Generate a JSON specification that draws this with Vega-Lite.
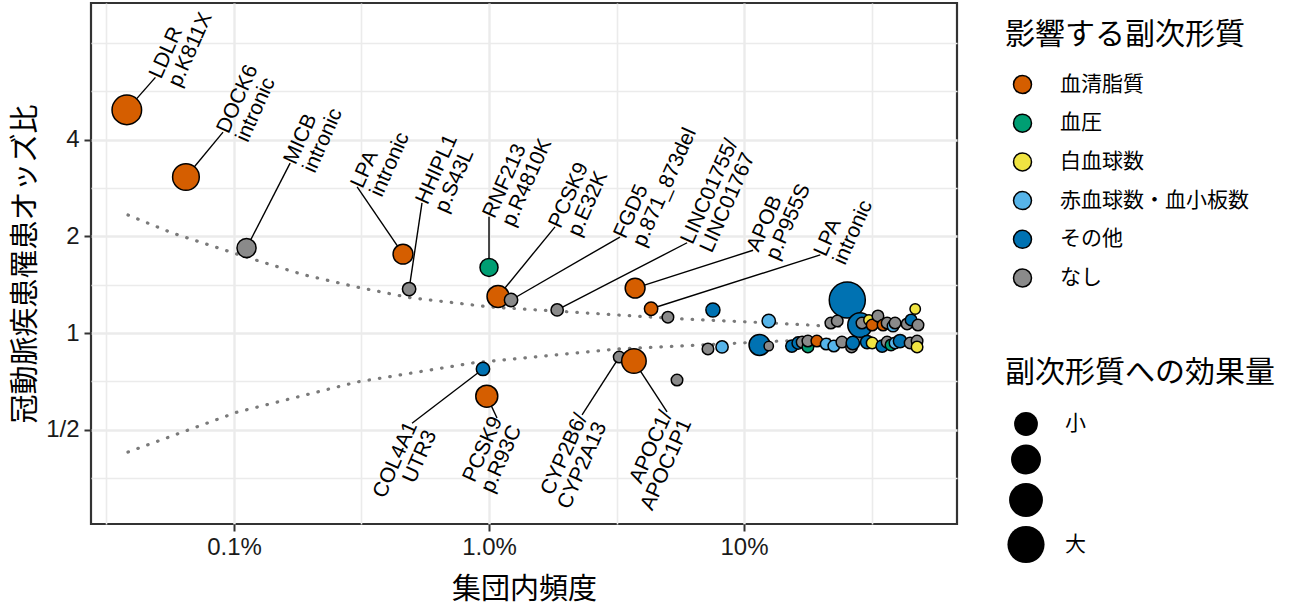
{
  "$schema": "https://vega.github.io/schema/vega-lite/v6.json",
  "width": 866,
  "height": 521,
  "autosize": {"type": "none"},
  "padding": {"left": 91, "top": 3, "right": 341, "bottom": 81},
  "background": "white",
  "config": {
    "view": {"stroke": "#333333", "strokeWidth": 2.2},
    "font": "Liberation Sans"
  },
  "datasets": {
    "curves": [
      {"curve": "upper", "freq": 0.0384, "or": 2.33},
      {"curve": "upper", "freq": 0.0571, "or": 2.05},
      {"curve": "upper", "freq": 0.1125, "or": 1.72},
      {"curve": "upper", "freq": 0.1866, "or": 1.52},
      {"curve": "upper", "freq": 0.3036, "or": 1.39},
      {"curve": "upper", "freq": 0.4856, "or": 1.29},
      {"curve": "upper", "freq": 1.009, "or": 1.205},
      {"curve": "upper", "freq": 1.849, "or": 1.17},
      {"curve": "upper", "freq": 5.27, "or": 1.11},
      {"curve": "upper", "freq": 13.0, "or": 1.074},
      {"curve": "upper", "freq": 20.4, "or": 1.053},
      {"curve": "upper", "freq": 30.6, "or": 1.044},
      {"curve": "lower", "freq": 0.0384, "or": 0.426},
      {"curve": "lower", "freq": 0.1027, "or": 0.567},
      {"curve": "lower", "freq": 0.304, "or": 0.704},
      {"curve": "lower", "freq": 0.865, "or": 0.807},
      {"curve": "lower", "freq": 3.18, "or": 0.892},
      {"curve": "lower", "freq": 6.72, "or": 0.918},
      {"curve": "lower", "freq": 13.8, "or": 0.944},
      {"curve": "lower", "freq": 30.6, "or": 0.965}
    ],
    "variants": [
      {"freq": 0.038, "or": 4.95, "trait": "血清脂質", "effect": 0.82, "label": "LDLR\np.K811X", "lfreq": 0.0492, "lor": 6.25, "side": "up"},
      {"freq": 0.0648, "or": 3.06, "trait": "血清脂質", "effect": 0.74, "label": "DOCK6\nintronic", "lfreq": 0.0906, "lor": 4.22, "side": "up"},
      {"freq": 0.112, "or": 1.84, "trait": "なし", "effect": 0.53, "label": "MICB\nintronic", "lfreq": 0.166, "lor": 3.38, "side": "up"},
      {"freq": 0.46, "or": 1.76, "trait": "血清脂質", "effect": 0.55, "label": "LPA\nintronic", "lfreq": 0.304, "lor": 2.85, "side": "up"},
      {"freq": 0.486, "or": 1.37, "trait": "なし", "effect": 0.37, "label": "HHIPL1\np.S43L", "lfreq": 0.546, "lor": 2.54, "side": "up"},
      {"freq": 1.0, "or": 1.6, "trait": "血圧", "effect": 0.5, "label": "RNF213\np.R4810K", "lfreq": 1.0, "lor": 2.3, "side": "up"},
      {"freq": 1.085, "or": 1.3, "trait": "血清脂質", "effect": 0.61, "label": "PCSK9\np.E32K", "lfreq": 1.815, "lor": 2.14, "side": "up"},
      {"freq": 1.22, "or": 1.267, "trait": "なし", "effect": 0.37, "label": "FGD5\np.871_873del", "lfreq": 3.26, "lor": 1.99, "side": "up"},
      {"freq": 1.85, "or": 1.18, "trait": "なし", "effect": 0.34, "label": "LINC01755/\nLINC01767", "lfreq": 5.98, "lor": 1.91, "side": "up"},
      {"freq": 3.74, "or": 1.38, "trait": "血清脂質", "effect": 0.55, "label": "APOB\np.P955S", "lfreq": 10.85, "lor": 1.81, "side": "up"},
      {"freq": 4.32, "or": 1.19, "trait": "血清脂質", "effect": 0.37, "label": "LPA\nintronic", "lfreq": 19.9, "lor": 1.75, "side": "up"},
      {"freq": 0.947, "or": 0.773, "trait": "その他", "effect": 0.37, "label": "COL4A1\nUTR3", "lfreq": 0.499, "lor": 0.524, "side": "down"},
      {"freq": 0.98, "or": 0.636, "trait": "血清脂質", "effect": 0.61, "label": "PCSK9\np.R93C", "lfreq": 1.075, "lor": 0.544, "side": "down"},
      {"freq": 3.24, "or": 0.842, "trait": "なし", "effect": 0.32, "label": "CYP2B6/\nCYP2A13", "lfreq": 2.317, "lor": 0.556, "side": "down"},
      {"freq": 3.7, "or": 0.818, "trait": "血清脂質", "effect": 0.68, "label": "APOC1/\nAPOC1P1", "lfreq": 4.99, "lor": 0.568, "side": "down"},
      {"freq": 25.4, "or": 1.267, "trait": "その他", "effect": 1.0},
      {"freq": 28.5, "or": 1.059, "trait": "その他", "effect": 0.68},
      {"freq": 11.5, "or": 0.918, "trait": "その他", "effect": 0.58},
      {"freq": 12.5, "or": 0.911, "trait": "なし", "effect": 0.26},
      {"freq": 5.03, "or": 1.12, "trait": "なし", "effect": 0.32},
      {"freq": 7.55, "or": 1.18, "trait": "その他", "effect": 0.39},
      {"freq": 12.5, "or": 1.09, "trait": "赤血球数・血小板数", "effect": 0.37},
      {"freq": 5.46, "or": 0.714, "trait": "なし", "effect": 0.32},
      {"freq": 7.22, "or": 0.892, "trait": "なし", "effect": 0.32},
      {"freq": 8.2, "or": 0.905, "trait": "赤血球数・血小板数", "effect": 0.34},
      {"freq": 21.9, "or": 1.074, "trait": "なし", "effect": 0.32},
      {"freq": 23.2, "or": 1.09, "trait": "なし", "effect": 0.32},
      {"freq": 29.0, "or": 1.074, "trait": "なし", "effect": 0.32},
      {"freq": 30.9, "or": 1.098, "trait": "白血球数", "effect": 0.29},
      {"freq": 31.8, "or": 1.059, "trait": "血清脂質", "effect": 0.32},
      {"freq": 33.5, "or": 1.13, "trait": "なし", "effect": 0.32},
      {"freq": 35.1, "or": 1.059, "trait": "血清脂質", "effect": 0.32},
      {"freq": 36.4, "or": 1.074, "trait": "なし", "effect": 0.32},
      {"freq": 38.4, "or": 1.051, "trait": "赤血球数・血小板数", "effect": 0.32},
      {"freq": 39.1, "or": 1.074, "trait": "なし", "effect": 0.32},
      {"freq": 43.6, "or": 1.067, "trait": "なし", "effect": 0.32},
      {"freq": 45.2, "or": 1.098, "trait": "その他", "effect": 0.32},
      {"freq": 48.1, "or": 1.059, "trait": "なし", "effect": 0.32},
      {"freq": 46.9, "or": 1.188, "trait": "白血球数", "effect": 0.29},
      {"freq": 15.4, "or": 0.911, "trait": "その他", "effect": 0.34},
      {"freq": 16.3, "or": 0.931, "trait": "その他", "effect": 0.34},
      {"freq": 16.9, "or": 0.937, "trait": "なし", "effect": 0.32},
      {"freq": 17.8, "or": 0.905, "trait": "血圧", "effect": 0.32},
      {"freq": 17.8, "or": 0.944, "trait": "なし", "effect": 0.32},
      {"freq": 19.3, "or": 0.944, "trait": "血清脂質", "effect": 0.32},
      {"freq": 21.0, "or": 0.924, "trait": "赤血球数・血小板数", "effect": 0.32},
      {"freq": 22.5, "or": 0.911, "trait": "赤血球数・血小板数", "effect": 0.32},
      {"freq": 24.2, "or": 0.937, "trait": "なし", "effect": 0.32},
      {"freq": 26.4, "or": 0.905, "trait": "なし", "effect": 0.32},
      {"freq": 26.7, "or": 0.931, "trait": "その他", "effect": 0.37},
      {"freq": 30.4, "or": 0.937, "trait": "その他", "effect": 0.37},
      {"freq": 31.8, "or": 0.931, "trait": "白血球数", "effect": 0.32},
      {"freq": 34.8, "or": 0.911, "trait": "その他", "effect": 0.34},
      {"freq": 36.4, "or": 0.937, "trait": "なし", "effect": 0.32},
      {"freq": 37.7, "or": 0.918, "trait": "血圧", "effect": 0.32},
      {"freq": 39.1, "or": 0.931, "trait": "赤血球数・血小板数", "effect": 0.32},
      {"freq": 40.9, "or": 0.944, "trait": "その他", "effect": 0.37},
      {"freq": 44.8, "or": 0.931, "trait": "なし", "effect": 0.32},
      {"freq": 47.7, "or": 0.944, "trait": "なし", "effect": 0.32},
      {"freq": 47.7, "or": 0.905, "trait": "白血球数", "effect": 0.32}
    ]
  },
  "encoding": {
    "x": {
      "field": "freq",
      "type": "quantitative",
      "title": "集団内頻度",
      "scale": {"type": "log", "domain": [0.0275, 68.4], "nice": false, "zero": false},
      "axis": {
        "values": [0.0316228, 0.1, 0.316228, 1, 3.16228, 10, 31.6228],
        "labelExpr": "datum.value == 0.1 ? '0.1%' : datum.value == 1 ? '1.0%' : datum.value == 10 ? '10%' : ''",
        "grid": true,
        "gridColor": "#EBEBEB",
        "gridWidth": {"condition": {"test": "datum.value == 0.1 || datum.value == 1 || datum.value == 10", "value": 2.4}, "value": 1.6},
        "tickOpacity": {"condition": {"test": "datum.value == 0.1 || datum.value == 1 || datum.value == 10", "value": 1}, "value": 0},
        "domain": false,
        "tickColor": "#333333",
        "tickWidth": 2,
        "tickSize": 7,
        "labelFont": "Liberation Sans",
        "labelFontSize": 24,
        "labelColor": "#1a1a1a",
        "labelPadding": 4,
        "labelFlush": false,
        "labelOverlap": false,
        "titleFont": "Noto Sans CJK JP",
        "titleFontSize": 29,
        "titleFontWeight": "normal",
        "titleColor": "black",
        "titlePadding": 16
      }
    },
    "y": {
      "field": "or",
      "type": "quantitative",
      "title": "冠動脈疾患罹患オッズ比",
      "scale": {"type": "log", "base": 2, "domain": [0.2544, 10.65], "nice": false, "zero": false},
      "axis": {
        "values": [0.353553, 0.5, 0.707107, 1, 1.414214, 2, 2.828427, 4, 5.656854, 8],
        "labelExpr": "datum.value == 0.5 ? '1/2' : datum.value == 1 ? '1' : datum.value == 2 ? '2' : datum.value == 4 ? '4' : ''",
        "grid": true,
        "gridColor": "#EBEBEB",
        "gridWidth": {"condition": {"test": "datum.value == 0.5 || datum.value == 1 || datum.value == 2 || datum.value == 4", "value": 2.4}, "value": 1.6},
        "tickOpacity": {"condition": {"test": "datum.value == 0.5 || datum.value == 1 || datum.value == 2 || datum.value == 4", "value": 1}, "value": 0},
        "domain": false,
        "tickColor": "#333333",
        "tickWidth": 2,
        "tickSize": 7,
        "labelFont": "Liberation Sans",
        "labelFontSize": 24,
        "labelColor": "#1a1a1a",
        "labelPadding": 5,
        "labelFlush": false,
        "labelOverlap": false,
        "titleFont": "Noto Sans CJK JP",
        "titleFontSize": 29,
        "titleFontWeight": "normal",
        "titleColor": "black",
        "titlePadding": 5
      }
    }
  },
  "layer": [
    {
      "data": {"name": "curves"},
      "mark": {"type": "line", "color": "#7A7A7A", "strokeWidth": 3.2, "strokeDash": [0.5, 10], "strokeCap": "round"},
      "encoding": {"detail": {"field": "curve", "type": "nominal"}}
    },
    {
      "data": {"name": "variants"},
      "transform": [{"filter": "isValid(datum.lfreq)"}],
      "mark": {"type": "rule", "color": "black", "strokeWidth": 1.4},
      "encoding": {
        "x2": {"field": "lfreq"},
        "y2": {"field": "lor"}
      }
    },
    {
      "data": {"name": "variants"},
      "mark": {"type": "point", "shape": "circle", "filled": true, "stroke": "black", "strokeWidth": 1.5, "opacity": 1},
      "encoding": {
        "color": {
          "field": "trait",
          "type": "nominal",
          "scale": {
            "domain": ["血清脂質", "血圧", "白血球数", "赤血球数・血小板数", "その他", "なし"],
            "range": ["#D55E00", "#009E73", "#F0E442", "#56B4E9", "#0072B2", "#8A8A8A"]
          },
          "legend": {
            "title": "影響する副次形質",
            "orient": "none",
            "legendX": 914,
            "legendY": 17,
            "titleFont": "Noto Sans CJK JP",
            "titleFontSize": 30,
            "titleFontWeight": "normal",
            "titleColor": "black",
            "titlePadding": 24,
            "titleLimit": 400,
            "labelFont": "Noto Sans CJK JP",
            "labelFontSize": 21,
            "labelColor": "black",
            "labelLimit": 400,
            "labelOffset": 27,
            "symbolType": "circle",
            "symbolSize": 324,
            "symbolStrokeColor": "black",
            "symbolStrokeWidth": 1.5,
            "symbolOpacity": 1,
            "symbolOffset": 7,
            "rowPadding": 13.7
          }
        },
        "size": {
          "field": "effect",
          "type": "quantitative",
          "scale": {"type": "pow", "exponent": 2, "domain": [0, 1.1], "range": [0, 1573]},
          "legend": {
            "title": "副次形質への効果量",
            "orient": "none",
            "legendX": 914,
            "legendY": 355,
            "values": [0.66, 0.83, 0.94, 1.03],
            "labelExpr": "datum.value < 0.7 ? '小' : datum.value > 1 ? '大' : ''",
            "titleFont": "Noto Sans CJK JP",
            "titleFontSize": 30,
            "titleFontWeight": "normal",
            "titleColor": "black",
            "titlePadding": 24,
            "titleLimit": 400,
            "labelFont": "Noto Sans CJK JP",
            "labelFontSize": 21,
            "labelColor": "black",
            "labelOffset": 20,
            "symbolType": "circle",
            "symbolFillColor": "black",
            "symbolStrokeWidth": 0,
            "symbolOpacity": 1,
            "symbolOffset": 2,
            "rowPadding": 8.5
          }
        }
      }
    },
    {
      "data": {"name": "variants"},
      "transform": [{"filter": "datum.side == 'up'"}],
      "mark": {"type": "text", "angle": -66, "align": "left", "baseline": "middle", "font": "Liberation Sans", "fontSize": 21, "lineBreak": "\n", "lineHeight": 21, "color": "black"},
      "encoding": {
        "x": {"field": "lfreq", "type": "quantitative", "title": "集団内頻度"},
        "y": {"field": "lor", "type": "quantitative", "title": "冠動脈疾患罹患オッズ比"},
        "text": {"field": "label"}
      }
    },
    {
      "data": {"name": "variants"},
      "transform": [{"filter": "datum.side == 'down'"}],
      "mark": {"type": "text", "angle": -66, "align": "right", "baseline": "middle", "font": "Liberation Sans", "fontSize": 21, "lineBreak": "\n", "lineHeight": 21, "color": "black"},
      "encoding": {
        "x": {"field": "lfreq", "type": "quantitative", "title": "集団内頻度"},
        "y": {"field": "lor", "type": "quantitative", "title": "冠動脈疾患罹患オッズ比"},
        "text": {"field": "label"}
      }
    }
  ]
}
